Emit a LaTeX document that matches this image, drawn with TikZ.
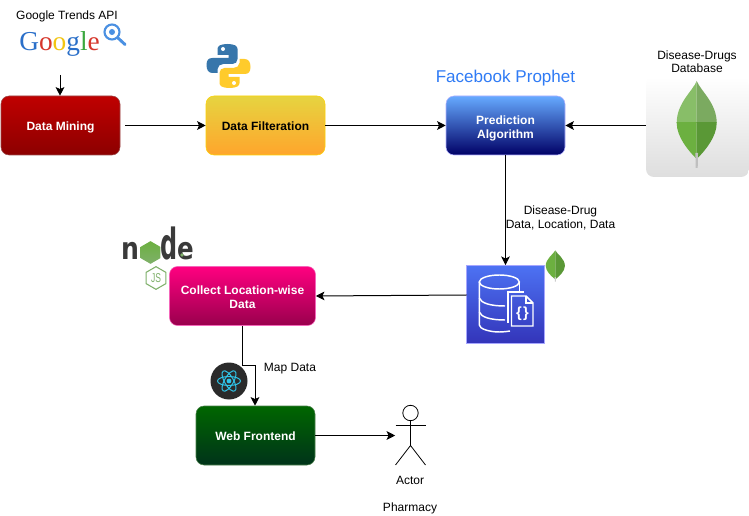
\documentclass[tikz,border=0pt]{standalone}
\usepackage{fontspec}
\usepackage{graphicx}
\setmainfont{Liberation Sans}
\newfontfamily\serifgoogle{Liberation Serif}
\newfontfamily\heavyfont{DejaVu Sans}
\usetikzlibrary{arrows.meta,shapes.geometric,calc}
\definecolor{leafA}{HTML}{88BE68}
\definecolor{leafB}{HTML}{7BAA60}
\definecolor{leafC}{HTML}{6CB040}
\definecolor{leafD}{HTML}{5A9836}
\definecolor{pyblue}{HTML}{3776AB}
\definecolor{pyyellow}{HTML}{FFCB2B}
\definecolor{nodedark}{HTML}{3A3A3A}
\definecolor{nodegreen}{HTML}{7FB06A}
\definecolor{reactc}{HTML}{2FC4E8}
\tikzset{
  flowbox/.style={draw, rounded corners=6pt, minimum width=89.25pt, minimum height=44.25pt,
    inner sep=0pt, align=center, text height=10pt, text depth=2pt, font=\fontsize{9}{10.5}\selectfont\bfseries},
  twoline/.style={text height=21.5pt, text depth=2pt},
  lbl/.style={inner sep=0pt, align=center, font=\fontsize{9}{10.5}\selectfont},
  conn/.style={draw=black, line width=0.75pt, -{Stealth[length=6.5pt,width=6.5pt,inset=1.5pt]}},
  plainicon/.style={inner sep=0pt, rectangle},
  nodeletter/.style={inner sep=0pt, anchor=base, text=nodedark, font=\heavyfont\bfseries\fontsize{23}{23}\selectfont}
}
\newcommand{\leafshape}{(0,-42) .. controls (-4,-32) and (-20,-20) .. (-20,0) .. controls (-20,14) and (-8,28) .. (-1,35) -- (1,35) .. controls (8,28) and (20,14) .. (20,0) .. controls (20,-20) and (4,-32) .. (0,-42) -- cycle}
\newcommand{\pysnake}{(0,-11) -- (-11,-11) -- (-11,-17) .. controls (-11,-20) and (-8,-22) .. (-1,-22) .. controls (6,-22) and (9,-20) .. (9,-17) -- (9,-7) .. controls (9,-4) and (7,-2) .. (4,-2) -- (-5,-2) .. controls (-8,-2) and (-11,0) .. (-11,3) -- (-11,7) -- (-16,7) .. controls (-20,7) and (-22,4) .. (-22,-1) .. controls (-22,-6) and (-20,-8) .. (-16,-8) -- (0,-8) -- cycle}
\begin{document}
\begin{tikzpicture}[x=0.75pt,y=-0.75pt]
\useasboundingbox (0,0) rectangle (749,516);
\fill[white] (0,0) rectangle (749,516);

% Node.js logo (below the Collect box)
\node[nodeletter] (noden) at (130,260) {\scalebox{0.82}[1]{n}};
\node[regular polygon, regular polygon sides=6, rotate=30, bottom color=nodegreen, top color=leafC, inner sep=0pt, minimum size=17pt] (nodeo) at (150.5,252.5) {};
\node[nodeletter] (noded) at (169,260) {\scalebox{0.78}[1.4]{d}};
\node[nodeletter] (nodee) at (185.7,260) {\scalebox{0.8}[1]{e}};
\fill[nodegreen] (182,255) circle [radius=1.8];
\node[regular polygon, regular polygon sides=6, rotate=30, draw=nodegreen, line width=0.8pt, fill=white, inner sep=0pt, minimum size=17pt] (nodejs) at (156,278) {};
\node[inner sep=0pt, text=nodegreen, font=\fontsize{8}{8}\selectfont] (nodejstxt) at (156,278.5) {\scalebox{0.8}[1.2]{JS}};

% Boxes
\node[flowbox, draw=red!45!black!70!white, top color=red!75!black, bottom color=red!55!black, text=white] (mining) at (60.5,125.5) {Data Mining};
\node[flowbox, draw=yellow!70!orange, top color={rgb,255:red,230;green,212;blue,64}, bottom color={rgb,255:red,255;green,165;blue,44}, text=black] (filter) at (265.5,125.5) {Data Filteration};
\node[flowbox, twoline, draw=blue!30!white, top color={rgb,255:red,102;green,170;blue,255}, bottom color={rgb,255:red,0;green,0;blue,102}, text=white] (predict) at (505.5,125.5) {Prediction\\Algorithm};
\node[flowbox, twoline, text height=20.8pt, minimum width=109.5pt, draw=magenta!60!white, top color={rgb,255:red,255;green,0;blue,128}, bottom color={rgb,255:red,153;green,0;blue,77}, text=white] (collect) at (242.5,296) {Collect Location-wise\\Data};
\node[flowbox, draw=green!30!black!70!white, top color={rgb,255:red,0;green,102;blue,0}, bottom color={rgb,255:red,0;green,51;blue,26}, text=white] (web) at (255.5,435.5) {Web Frontend};

% Mongo database icon
\node[plainicon, rounded corners=6pt, minimum width=77.25pt, minimum height=75pt, top color=white, bottom color=black!13] (mongo) at (697.5,127) {};
\begin{scope}[shift={(696.7,123)}]
  \begin{scope}\clip (-25,-45) rectangle (0,0); \fill[leafA] \leafshape; \end{scope}
  \begin{scope}\clip (0,-45) rectangle (25,0); \fill[leafB] \leafshape; \end{scope}
  \begin{scope}\clip (-25,0) rectangle (0,40); \fill[leafC] \leafshape; \end{scope}
  \begin{scope}\clip (0,0) rectangle (25,40); \fill[leafD] \leafshape; \end{scope}
  \fill[black!25] (-1.3,30) -- (1.3,30) -- (1,45) -- (-1,45) -- cycle;
\end{scope}

% Document DB icon
\node[plainicon, draw=blue!35!white, line width=0.5pt, minimum width=58.5pt, minimum height=58.5pt, top color={rgb,255:red,77;green,114;blue,243}, bottom color={rgb,255:red,51;green,52;blue,185}] (docdb) at (505.7,304.5) {};
\begin{scope}[line width=1.1pt]
  \draw[white] (499.3,282) ellipse [x radius=20, y radius=7];
  \draw[white] (479.3,282) -- (479.3,325) .. controls (479.3,329) and (490,332) .. (499.3,332) .. controls (503,332) and (507,331.5) .. (510,331);
  \draw[white] (519.3,282) -- (519.3,291);
  \draw[white] (479.3,298) .. controls (481,303) and (490,306) .. (505,306);
  \draw[white] (479.3,312) .. controls (481,317) and (490,320) .. (505,320);
  \draw[white] (508,323) -- (508,292) -- (524,292);
  \draw[white] (511.5,326) -- (511.5,296) -- (526,296) -- (533,303) -- (533,326) -- cycle;
  \draw[white] (526,296) -- (526,303) -- (533,303);
\end{scope}
\node[font=\fontsize{11}{11}\selectfont\bfseries, text=white, inner sep=0pt] (curly) at (522.5,314) {\{\kern1pt\}};

% Small leaf
\begin{scope}[shift={(555.3,266)}, xscale=0.48, yscale=0.37]
  \begin{scope}\clip (-25,-45) rectangle (0,40); \fill[leafC] \leafshape; \end{scope}
  \begin{scope}\clip (0,-45) rectangle (25,40); \fill[leafD] \leafshape; \end{scope}
  \fill[black!20] (-1.3,30) -- (1.3,30) -- (1,42) -- (-1,42) -- cycle;
\end{scope}

% Python logo
\begin{scope}[shift={(228.5,66)}]
  \fill[pyblue] \pysnake;
  \fill[white] (-5.5,-17) circle [radius=2];
  \begin{scope}[xscale=-1,yscale=-1]
    \fill[pyyellow] \pysnake;
    \fill[white] (-5.5,-17) circle [radius=2];
  \end{scope}
\end{scope}

% Google logo
\node[inner sep=0pt, anchor=base west, font=\serifgoogle\fontsize{20.5}{20.5}\selectfont] (google) at (19,51)
  {\textcolor[HTML]{2A6FC9}{G}\textcolor[HTML]{D6362B}{o}\textcolor[HTML]{F2C511}{o}\textcolor[HTML]{2A6FC9}{g}\textcolor[HTML]{3BA83F}{l}\textcolor[HTML]{D6362B}{e}};
\draw[color={rgb,255:red,74;green,144;blue,226}, line width=1.6pt] (112,32) circle [radius=7.5];
\fill[color={rgb,255:red,74;green,144;blue,226}] (112,32) circle [radius=3];
\draw[color={rgb,255:red,74;green,144;blue,226}, line width=2.2pt, line cap=round] (118,38) -- (125,44.5);

% React logo
\node[circle, fill=black!83, inner sep=0pt, minimum size=27.75pt] (react) at (229,381) {};
\foreach \a in {0,60,120}{
  \draw[reactc, line width=0.75pt, rotate around={\a:(229,381)}] (229,381) ellipse [x radius=11.5, y radius=4.5];
}
\fill[reactc] (229,381) circle [radius=2.4];

% Actor
\node[inner sep=0pt, minimum width=22.5pt, minimum height=45pt] (actor) at (410.5,435.5) {};
\draw[line width=0.6pt] (410.5,413) circle [radius=7.7];
\draw[line width=0.6pt] (410.5,420.7) -- (410.5,445.5);
\draw[line width=0.6pt] (395.5,425) -- (425.5,425);
\draw[line width=0.6pt] (395.5,465) -- (410.5,445.5) -- (425.5,465);

% Labels
\node[lbl] (tgoogle) at (67,16) {Google Trends API};
\node[lbl, font=\fontsize{9}{10}\selectfont] (tmongo) at (697,62) {Disease-Drugs\\[-0.2pt]Database};
\node[lbl, font=\fontsize{12.8}{14}\selectfont, text={rgb,255:red,47;green,123;blue,245}] (tfb) at (505.5,78) {Facebook Prophet};
\node[lbl, font=\fontsize{9}{10.5}\selectfont] (tdd) at (560.5,218) {Disease-Drug\\Data, Location, Data};
\node[lbl] (tmap) at (290,368.5) {Map Data};
\node[lbl] (tactor) at (410,480.5) {Actor};
\node[lbl] (tpharm) at (410,508) {Pharmacy};

% Connectors
\coordinate (gfoot) at (60,75);
\coordinate (miningout) at (125,125.5);
\coordinate (elbowA) at (242,365);
\coordinate (elbowB) at (255,365);
\coordinate (dbout) at (466.5,295);
\draw[conn] (gfoot) -- (mining.north -| gfoot);
\draw[conn] (miningout) -- (filter.west);
\draw[conn] (filter.east) -- (predict.west);
\draw[conn] (mongo.west |- predict.east) -- (predict.east);
\draw[conn] (predict.south) -- (docdb.north -| predict.south);
\draw[conn] (dbout) -- (collect.east);
\draw[conn] (collect.south -| elbowA) -- (elbowA) -- (elbowB) -- (web.north -| elbowB);
\draw[conn] (web.east) -- (actor.west);
\end{tikzpicture}
\end{document}
